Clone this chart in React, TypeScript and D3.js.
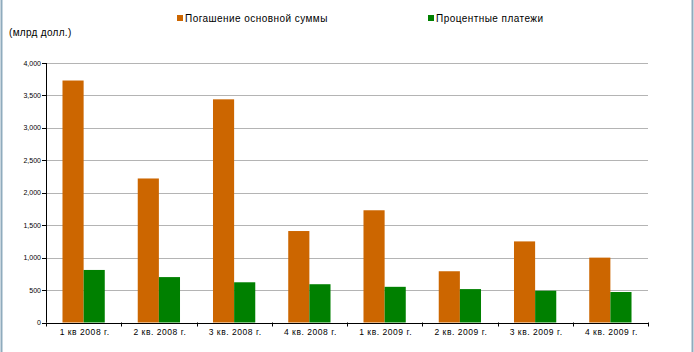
import * as d3 from "d3";
import React from "react";

const quarters = [
  "1 кв 2008 г.",
  "2 кв. 2008 г.",
  "3 кв. 2008 г.",
  "4 кв. 2008 г.",
  "1 кв. 2009 г.",
  "2 кв. 2009 г.",
  "3 кв. 2009 г.",
  "4 кв. 2009 г.",
];
const principal = [3730, 2220, 3440, 1410, 1730, 790, 1250, 1000];
const interest = [810, 700, 620, 590, 550, 515, 490, 470];
const yTicks = [0, 500, 1000, 1500, 2000, 2500, 3000, 3500, 4000];
const seriesNames = ["Погашение основной суммы", "Процентные платежи"];
const unitLabel = "(млрд долл.)";

const W = 694;
const H = 352;
const margin = { top: 63, right: 46, bottom: 29.5, left: 46 };
const ORANGE = "#cc6600";
const GREEN = "#008000";
const FONT = "'Liberation Sans', Arial, sans-serif";

const App: React.FC = () => {
  const x = d3
    .scaleBand<string>()
    .domain(quarters)
    .range([margin.left, W - margin.right])
    .paddingInner(0)
    .paddingOuter(0);
  const sub = d3
    .scaleBand<string>()
    .domain(["p", "i"])
    .range([0, x.bandwidth()])
    .paddingOuter(0.78)
    .paddingInner(0);
  const y = d3
    .scaleLinear()
    .domain([0, 4000])
    .range([H - margin.bottom, margin.top]);
  const fmt = d3.format(",");

  const y0 = y(0);
  const x0 = margin.left;
  const x1 = W - margin.right;

  return (
    <svg
      width={W}
      height={H}
      style={{ position: "absolute", left: 0, top: 0, background: "#fff" }}
      fontFamily={FONT}
    >
      {/* frame edges */}
      <line x1={1.5} x2={1.5} y1={0} y2={H} stroke="#8fabbd" strokeWidth={2} />
      <line x1={692.5} x2={692.5} y1={0} y2={H} stroke="#8fabbd" strokeWidth={2} />

      {/* legend */}
      <rect x={177} y={15} width={6} height={6} fill={ORANGE} />
      <text x={185} y={21.5} fontSize={10} letterSpacing={0.45} fill="#000">
        {seriesNames[0]}
      </text>
      <rect x={428} y={15} width={6} height={6} fill={GREEN} />
      <text x={436} y={21.5} fontSize={10} letterSpacing={0.45} fill="#000">
        {seriesNames[1]}
      </text>

      <text x={9} y={36} fontSize={10} letterSpacing={0.3} fill="#000">
        {unitLabel}
      </text>

      {/* gridlines */}
      {yTicks.slice(1).map((t) => (
        <line
          key={"g" + t}
          x1={x0}
          x2={x1}
          y1={Math.round(y(t)) + 0.5}
          y2={Math.round(y(t)) + 0.5}
          stroke="#b4b4b4"
          strokeWidth={1}
        />
      ))}

      {/* bars */}
      {quarters.map((q, i) => {
        const bx = x(q)!;
        return (
          <g key={q}>
            <rect
              x={bx + sub("p")!}
              y={y(principal[i])}
              width={sub.bandwidth()}
              height={y0 - y(principal[i])}
              fill={ORANGE}
            />
            <rect
              x={bx + sub("i")!}
              y={y(interest[i])}
              width={sub.bandwidth()}
              height={y0 - y(interest[i])}
              fill={GREEN}
            />
          </g>
        );
      })}

      {/* y axis */}
      <line x1={x0 + 0.5} x2={x0 + 0.5} y1={margin.top} y2={y0} stroke="#000" />
      {yTicks.map((t) => (
        <g key={"y" + t}>
          <line
            x1={x0 - 4}
            x2={x0}
            y1={Math.round(y(t)) + 0.5}
            y2={Math.round(y(t)) + 0.5}
            stroke="#000"
          />
          <text
            x={x0 - 5}
            y={y(t) + 2.5}
            fontSize={7}
            textAnchor="end"
            fill="#000"
          >
            {fmt(t)}
          </text>
        </g>
      ))}

      {/* x axis */}
      <line x1={x0} x2={x1 + 0.5} y1={Math.round(y0) + 0.5} y2={Math.round(y0) + 0.5} stroke="#000" />
      {[...quarters.map((q) => x(q)!), x1].map((tx, i) => (
        <line
          key={"xt" + i}
          x1={Math.round(tx) + 0.5}
          x2={Math.round(tx) + 0.5}
          y1={y0}
          y2={y0 + 4}
          stroke="#000"
        />
      ))}
      {quarters.map((q) => (
        <text
          key={"xl" + q}
          x={x(q)! + x.bandwidth() / 2 + 1}
          y={y0 + 12.5}
          fontSize={8.5}
          letterSpacing={0.55}
          textAnchor="middle"
          fill="#000"
        >
          {q}
        </text>
      ))}
    </svg>
  );
};

export default App;
